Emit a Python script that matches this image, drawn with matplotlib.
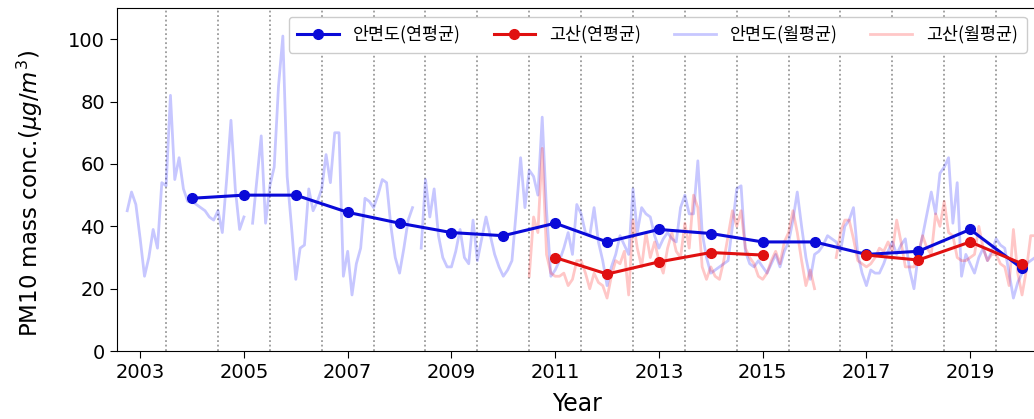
import numpy as np
import matplotlib.pyplot as plt

plt.rcParams['font.family'] = ['DejaVu Sans', 'Noto Sans CJK KR']

# 연평균 (annual means)
years = np.arange(2004, 2021)
anmyeon_year = [49, 50, 50, 44.5, 41, 38, 37, 41, 35, 39, 37.7, 35, 35, 31, 32, 39, 26.5]
gosan_years = np.arange(2011, 2021)
gosan_year = [30, 24.7, 28.6, 31.6, 30.8, np.nan, 30.8, 29.2, 35, 28]

# 월평균 (monthly means), Anmyeon from Oct 2002, Gosan from Jul 2010
anmyeon_month = [
    45, 51, 47,
    36, 24, 30, 39, 33, 54, 53, 82, 55, 62, 52, 48,
    48, 47, 46, 45, 43, 42, 45, 38, 55, 74, 52, 39,
    43, np.nan, 41, 55, 69, 41, 53, 59, 85, 101, 56, 40,
    23, 33, 34, 52, 45, 48, 52, 63, 54, 70, 70, 24,
    32, 18, 28, 33, 49, 48, 46, 50, 55, 54, 40, 30,
    25, 33, 42, 46, np.nan, 33, 55, 43, 52, 37, 30, 27,
    27, 32, 39, 30, 28, 42, 29, 36, 43, 37, 31, 27,
    24, 26, 29, 45, 62, 46, 58, 56, 50, 75, 45, 24,
    26, 29, 33, 38, 31, 47, 44, 38, 37, 46, 35, 29,
    21, 27, 31, 37, 34, 31, 52, 38, 46, 44, 43, 37,
    33, 36, 38, 36, 35, 46, 50, 44, 44, 61, 38, 30,
    25, 26, 27, 28, 29, 40, 52, 53, 32, 28, 27, 29,
    27, 25, 28, 31, 27, 32, 35, 42, 51, 40, 30, 23,
    31, 32, 34, 37, 36, 35, 32, 40, 42, 46, 31, 25,
    21, 26, 25, 25, 28, 32, 35, 31, 34, 36, 26, 20,
    31, 37, 44, 51, 44, 57, 59, 62, 41, 54, 24, 31,
    28, 25, 30, 33, 29, 32, 36, 34, 33, 25, 17, 22,
    25, 28, 29, 30, 31,
]
gosan_month = [
    24, 43, 38, 65, 31, 25,
    24, 24, 25, 21, 23, 29, 29, 25, 20, 25, 22, 21,
    17, 24, 29, 28, 32, 18, 42, 33, 27, 38, 30, 35,
    29, 25, 33, 38, 32, 30, 41, 33, 50, 46, 27, 23,
    27, 24, 23, 29, 37, 45, 40, 45, 33, 30, 28, 24,
    23, 25, 29, 32, 28, 35, 38, 45, 38, 29, 21, 26,
    20, np.nan, np.nan, np.nan, np.nan, 30, 38, 42, 42, 36, 29, 28,
    27, 28, 30, 33, 32, 35, 32, 42, 35, 27, 27, 27,
    31, 37, 33, 31, 44, 40, 48, 38, 37, 30, 29, 29,
    30, 31, 40, 33, 29, 31, 31, 28, 27, 21, 39, 25,
    18, 26, 37, 37,
]
anmyeon_mx = 2002.75 + np.arange(len(anmyeon_month)) / 12
gosan_mx = 2010.5 + np.arange(len(gosan_month)) / 12

fig = plt.figure(figsize=(10.34, 4.19), dpi=100)
ax = fig.add_axes([0.113, 0.162, 0.89, 0.819])

for yr in range(2003, 2020):
    ax.axvline(yr + 0.5, color='#9a9a9a', ls=(0, (1, 1.5)), lw=1.3, zorder=0)

ax.plot(years, anmyeon_year, '-o', color='#0a0ad8', lw=2.2, ms=7, label='안면도(연평균)', zorder=4)
ax.plot(gosan_years, gosan_year, '-o', color='#e01010', lw=2.2, ms=7, label='고산(연평균)', zorder=5)
ax.plot(anmyeon_mx, anmyeon_month, color='blue', alpha=0.22, lw=2, label='안면도(월평균)', zorder=2)
ax.plot(gosan_mx, gosan_month, color='red', alpha=0.22, lw=2, label='고산(월평균)', zorder=3)

ax.set_xlim(2002.55, 2020.29)
ax.set_ylim(0, 110)
ax.set_xticks(np.arange(2003, 2021, 2))
ax.set_yticks(np.arange(0, 101, 20))
ax.tick_params(labelsize=14, length=5)
ax.set_xlabel('Year', fontsize=17, labelpad=7)
ax.set_ylabel('PM10 mass conc.($\\mu g/m^3$)', fontsize=16.5)
ax.yaxis.set_label_coords(-0.078, 0.46)

leg = ax.legend(loc='upper right', ncol=4, fontsize=12.5, framealpha=1,
                bbox_to_anchor=(0.998, 1.0), borderpad=0.5, columnspacing=1.9,
                handlelength=2.4)
for t in leg.get_texts():
    t.set_family(['Noto Sans CJK KR', 'DejaVu Sans'])

fig.savefig('out.png', dpi=100)
